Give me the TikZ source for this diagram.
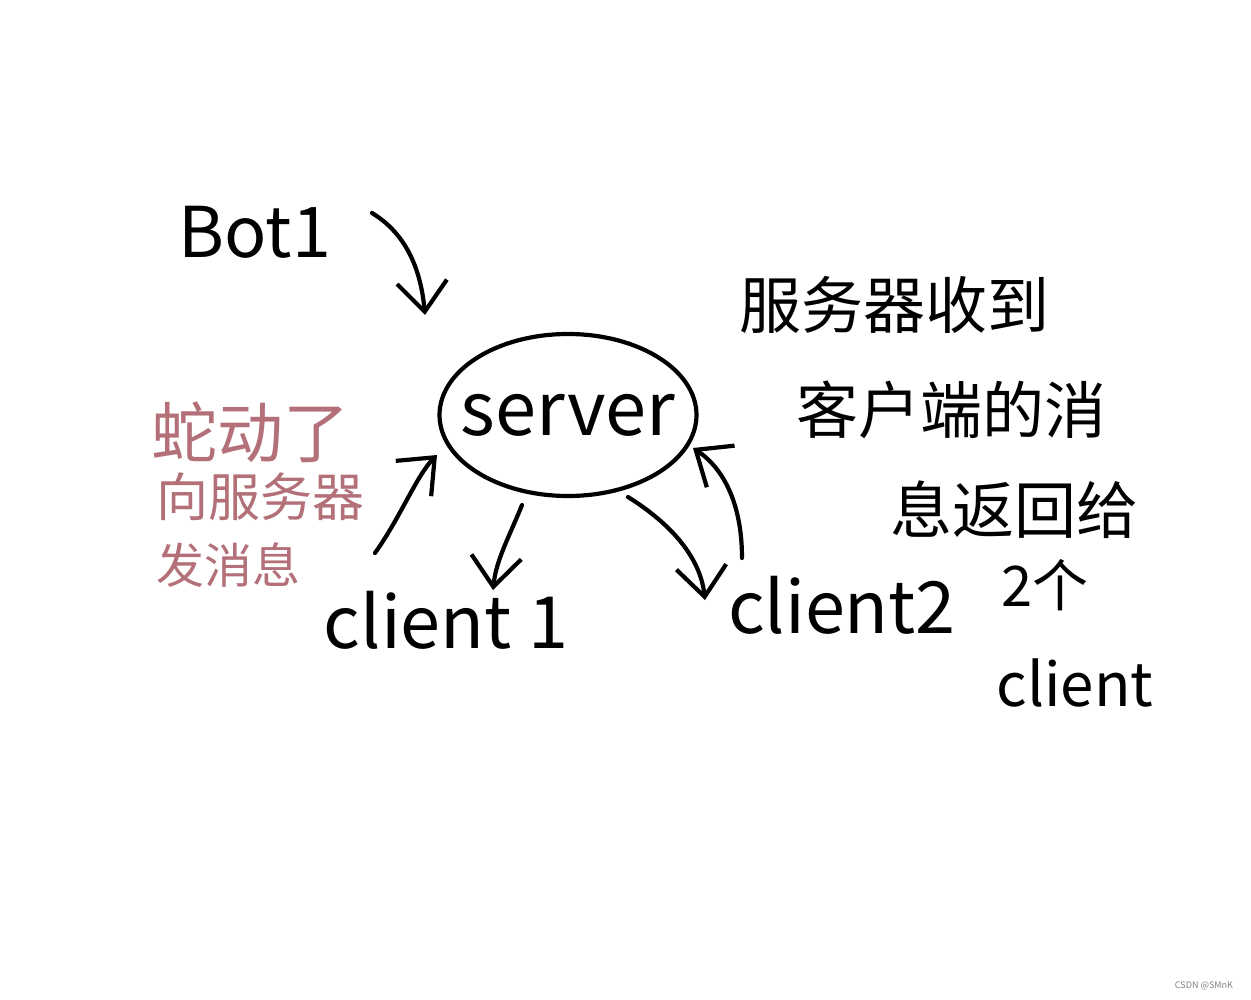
\documentclass[tikz,border=0pt]{standalone}
\usepackage{fontspec}
\setmainfont{Noto Sans CJK SC}
\usetikzlibrary{shapes.geometric,arrows.meta}
\definecolor{penpink}{RGB}{180,112,120}
\begin{document}
\begin{tikzpicture}[x=1pt,y=-1pt,
	hand/.style={inner sep=0pt,text=black},
	note/.style={inner sep=0pt,text=penpink},
	arr/.style={line width=4.2pt,line cap=round,-{Straight Barb[length=30pt,width=50pt,line width=4.2pt]}}]
	\fill[white] (0,0) rectangle (1251,1000);
	\useasboundingbox (0,0) rectangle (1251,1000);
	% nodes
	\node[hand,font=\fontsize{70}{80}\selectfont] (bot) at (255,232) {Bot1};
	\node[draw,ellipse,line width=4.2pt,minimum width=257pt,minimum height=162pt,inner sep=0pt,font=\fontsize{74}{90}\selectfont] (server) at (568,415) {\makebox[0pt]{server}};
	\node[hand,font=\fontsize{72}{80}\selectfont] (client1) at (446,620) {client 1};
	\node[hand,font=\fontsize{72}{80}\selectfont] (client2) at (842,605) {client2};
	% black note, right
	\node[hand,font=\fontsize{62}{70}\selectfont] (recv1) at (894,305) {服务器收到};
	\node[hand,font=\fontsize{62}{70}\selectfont] (recv2) at (951,410) {客户端的消};
	\node[hand,font=\fontsize{62}{70}\selectfont] (recv3) at (1014,510) {息返回给};
	\node[hand,font=\fontsize{56}{64}\selectfont] (two) at (1045,585) {2个};
	\node[hand,font=\fontsize{60}{70}\selectfont] (client) at (1075,683) {client};
	% pink note, left
	\node[note,font=\fontsize{66}{74}\selectfont] (snake1) at (250,432) {蛇动了};
	\node[note,font=\fontsize{52}{60}\selectfont] (snake2) at (260,497) {向服务器};
	\node[note,font=\fontsize{48}{56}\selectfont] (snake3) at (228,565) {发消息};
	\node[text=gray,font=\fontsize{9}{10}\selectfont] (mark) at (1204,986) {CSDN @SMnK};
	% arrows
	\draw[arr] ([shift={(117,-19)}]bot.center) .. controls +(28,17) and +(-5,-55) .. ([shift={(-143,-100)}]server.center);
	\draw[arr] ([shift={(-46,90)}]server.center) .. controls +(-12,30) and +(3,-30) .. ([shift={(47,-30)}]client1.center);
	\draw[arr] ([shift={(60,82)}]server.center) .. controls +(40,25) and +(-5,-45) .. ([shift={(-137,-5)}]client2.center);
	\draw[arr] ([shift={(-100,-47)}]client2.center) .. controls +(0,-55) and +(30,20) .. ([shift={(125,33)}]server.center);
	\draw[arr] ([shift={(115,56)}]snake2.center) .. controls +(25,-35) and +(-20,20) .. ([shift={(-131,40)}]server.center);
\end{tikzpicture}
\end{document}
